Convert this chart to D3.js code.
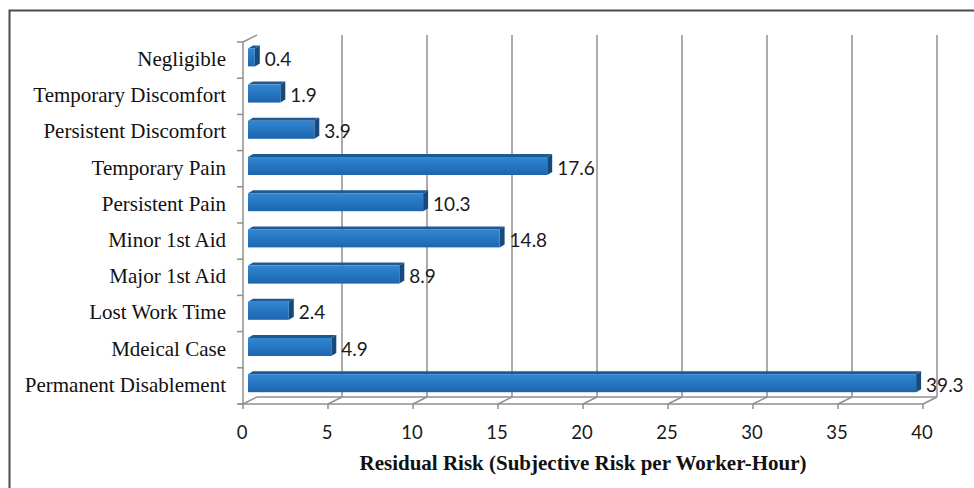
<!DOCTYPE html>
<html><head><meta charset="utf-8">
<script src="https://cdn.jsdelivr.net/npm/d3@7"></script>
<style>body{margin:0;background:#fff}svg{display:block}</style>
</head><body>
<script>
const categories = ["Negligible","Temporary Discomfort","Persistent Discomfort","Temporary Pain","Persistent Pain","Minor 1st Aid","Major 1st Aid","Lost Work Time","Mdeical Case","Permanent Disablement"];
const values = [0.4,1.9,3.9,17.6,10.3,14.8,8.9,2.4,4.9,39.3];
const xTicks = [0,5,10,15,20,25,30,35,40];
const xTitle = "Residual Risk (Subjective Risk per Worker-Hour)";

const W = 974, H = 488;
const svg = d3.select("body").append("svg").attr("width", W).attr("height", H);

const defs = svg.append("defs");
const g1 = defs.append("linearGradient").attr("id","barFront").attr("x1",0).attr("y1",0).attr("x2",0).attr("y2",1);
g1.append("stop").attr("offset","0%").attr("stop-color","#3386d0");
g1.append("stop").attr("offset","50%").attr("stop-color","#2676c2");
g1.append("stop").attr("offset","100%").attr("stop-color","#1d66ac");

// outer frame
svg.append("path").attr("d","M9.5,488 L9.5,10.5 L974,10.5").attr("fill","none").attr("stroke","#4a4a4a").attr("stroke-width",2);

const x = d3.scaleLinear().domain([0,40]).range([243,923]);
const y = d3.scaleBand().domain(categories).range([42,404]);
const DX = 14, DY = -7;          // depth of the 3D plot area
const bdx0 = 5;                  // bar front plane offset
const bdx = 5, bdy = -3;         // bar depth
const yTop = 42, yBot = 404;
const gridColor = "#8f8f8f";

const grid = svg.append("g").attr("fill","none").attr("stroke",gridColor).attr("stroke-width",1.5);
// back wall gridlines
xTicks.filter(v=>v>0).forEach(v=>{
  grid.append("line").attr("x1",x(v)+DX).attr("x2",x(v)+DX).attr("y1",yTop+DY).attr("y2",yBot+DY);
});
// floor
grid.append("line").attr("x1",x(0)+DX).attr("x2",x(40)+DX).attr("y1",yBot+DY).attr("y2",yBot+DY);
xTicks.forEach(v=>{
  grid.append("line").attr("x1",x(v)).attr("x2",x(v)+DX).attr("y1",yBot).attr("y2",yBot+DY);
  grid.append("line").attr("x1",x(v)).attr("x2",x(v)).attr("y1",yBot).attr("y2",yBot+5);
});
grid.append("line").attr("x1",x(0)-5).attr("x2",x(40)).attr("y1",yBot).attr("y2",yBot);
// left wall
grid.append("line").attr("x1",x(0)).attr("x2",x(0)).attr("y1",yTop).attr("y2",yBot);
grid.append("line").attr("x1",x(0)).attr("x2",x(0)+DX).attr("y1",yTop).attr("y2",yTop+DY);
const bounds = categories.map(c=>y(c)).concat([yBot]);
bounds.forEach(b=>{
  grid.append("line").attr("x1",x(0)-6).attr("x2",x(0)).attr("y1",b).attr("y2",b);
});

// bars
const bars = svg.append("g");
categories.forEach((c,i)=>{
  const v = values[i];
  const cy = y(c) + y.bandwidth()/2;
  const y0 = cy - 11.7, y1 = cy + 6.3;
  const xa = x(0) + bdx0, xb = x(v) + bdx0;
  bars.append("path").attr("d",`M${xa},${y0} L${xb},${y0} L${xb+bdx},${y0+bdy} L${xa+bdx},${y0+bdy} Z`).attr("fill","#1c5a94");
  bars.append("path").attr("d",`M${xb},${y0} L${xb+bdx},${y0+bdy} L${xb+bdx},${y1+bdy} L${xb},${y1} Z`).attr("fill","#17497a");
  bars.append("rect").attr("x",xa).attr("y",y0).attr("width",Math.max(0,xb-xa)).attr("height",y1-y0).attr("fill","url(#barFront)");
  svg.append("text").attr("x",xb+bdx+5).attr("y",cy+1).attr("dominant-baseline","middle")
    .attr("font-family","Lato, 'Open Sans', sans-serif").attr("font-size",19).attr("fill","#1a1a1a").text(v.toFixed(1));
  svg.append("text").attr("x",226).attr("y",cy+1).attr("dominant-baseline","middle").attr("text-anchor","end")
    .attr("font-family","'Liberation Serif','Times New Roman',serif").attr("font-size",21).attr("fill","#111").text(c);
});

// tick labels
xTicks.forEach(v=>{
  svg.append("text").attr("x",x(v)-1).attr("y",434).attr("dominant-baseline","middle").attr("text-anchor","middle")
    .attr("font-family","Lato, 'Open Sans', sans-serif").attr("font-size",18.5).attr("fill","#1a1a1a").text(v);
});

// axis title
svg.append("text").attr("x",583).attr("y",465).attr("dominant-baseline","middle").attr("text-anchor","middle")
  .attr("font-family","'Liberation Serif','Times New Roman',serif").attr("font-weight","bold").attr("font-size",21).attr("fill","#111").text(xTitle);
</script>
</body></html>
